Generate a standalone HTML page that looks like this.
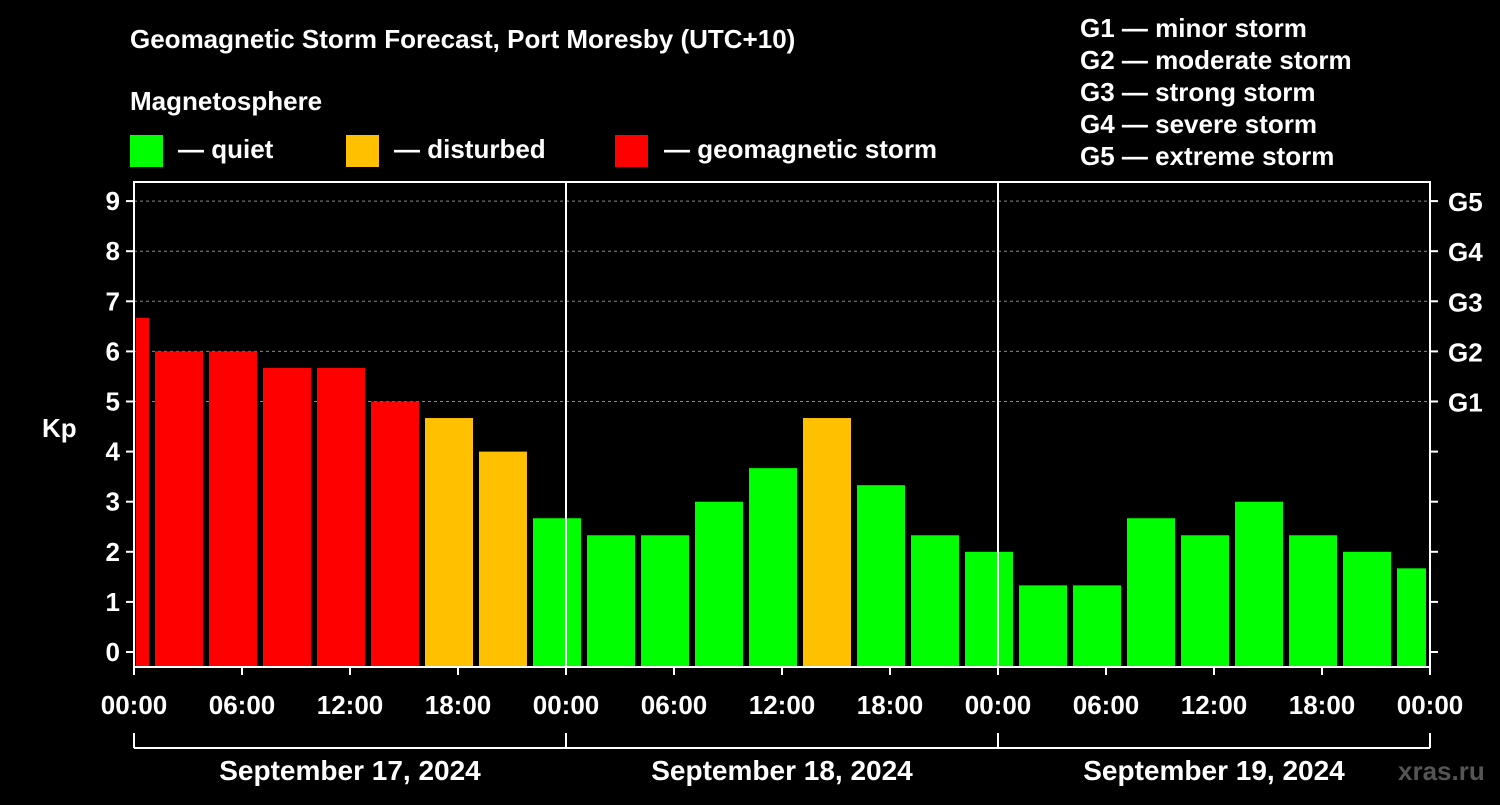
<!DOCTYPE html>
<html><head><meta charset="utf-8"><style>
body{margin:0;background:#000;}
svg text{font-family:"Liberation Sans",Arial,sans-serif;font-weight:bold;fill:#fff;}
</style></head><body>
<svg id="c" width="1500" height="800" xmlns="http://www.w3.org/2000/svg">
<rect width="1500" height="800" fill="#000"/>
<text x="130" y="48" font-size="26">Geomagnetic Storm Forecast, Port Moresby (UTC+10)</text>
<text x="130" y="110" font-size="26">Magnetosphere</text>
<rect x="130" y="135" width="33" height="32" fill="#00ff00"/>
<text x="178" y="158" font-size="26">— quiet</text>
<rect x="346" y="135" width="33" height="32" fill="#ffc000"/>
<text x="394" y="158" font-size="26">— disturbed</text>
<rect x="615" y="135" width="33" height="32" fill="#ff0000"/>
<text x="664" y="158" font-size="26">— geomagnetic storm</text>
<g font-size="26">
<text x="1080" y="37">G1 — minor storm</text>
<text x="1080" y="69">G2 — moderate storm</text>
<text x="1080" y="101">G3 — strong storm</text>
<text x="1080" y="133">G4 — severe storm</text>
<text x="1080" y="165">G5 — extreme storm</text>
</g>
<text x="42" y="437" font-size="26">Kp</text>
<text x="1398" y="780" font-size="26" fill="#555" style="fill:#555">xras.ru</text>
<g id="plot"></g>
</svg>
<script>
const kpValues=[6.67,6,6,5.67,5.67,5,4.67,4,2.67,2.33,2.33,3,3.67,4.67,3.33,2.33,2,1.33,1.33,2.67,2.33,3,2.33,2,1.67];
const slotStartHours=[0,1,4,7,10,13,16,19,22,25,28,31,34,37,40,43,46,49,52,55,58,61,64,67,70];
const yTicks=[0,1,2,3,4,5,6,7,8,9];
const gLabels=["G1","G2","G3","G4","G5"];
const xTickLabels=["00:00","06:00","12:00","18:00","00:00","06:00","12:00","18:00","00:00","06:00","12:00","18:00","00:00"];
const dayLabels=["September 17, 2024","September 18, 2024","September 19, 2024"];
const X0=134,X1=1430,TOTAL=72,YT=182,YB=667;
const xs=h=>X0+(X1-X0)*h/TOTAL;
const ys=v=>652-50.1*v;
const NS="http://www.w3.org/2000/svg";
const g=document.getElementById('plot');
function mk(t,a){const e=document.createElementNS(NS,t);for(const k in a)e.setAttribute(k,a[k]);g.appendChild(e);return e;}
// grid
for(let i=5;i<=9;i++){const l=mk('line',{x1:X0,x2:X1,y1:ys(i),y2:ys(i),stroke:'#888','stroke-dasharray':'3,3','stroke-width':1});

}
// bars
kpValues.forEach((v,i)=>{const s=slotStartHours[i];const e=Math.min(TOTAL,i+1<slotStartHours.length?slotStartHours[i+1]:TOTAL);
const x=xs(s)+(i===0?2:3),x2=xs(e)-(i===kpValues.length-1?4:3);
const col=v>=5?'#ff0000':(v>=4?'#ffc000':'#00ff00');
const r=mk('rect',{x:x,y:ys(v),width:x2-x,height:YB-ys(v),fill:col});

});
// frame
const f=mk('rect',{x:X0,y:YT,width:X1-X0,height:YB-YT,fill:'none',stroke:'#fff','stroke-width':2});


[24,48].forEach(h=>{const l=mk('line',{x1:xs(h),x2:xs(h),y1:YT,y2:YB,stroke:'#fff','stroke-width':2});

});
// y ticks
yTicks.forEach(v=>{const y=ys(v);
mk('line',{x1:X0-8,x2:X0,y1:y,y2:y,stroke:'#fff','stroke-width':2});
mk('line',{x1:X1,x2:X1+8,y1:y,y2:y,stroke:'#fff','stroke-width':2});
const t=mk('text',{x:X0-14,y:y+9,'font-size':26,'text-anchor':'end'});t.textContent=v;

});
gLabels.forEach((l,i)=>{const t=mk('text',{x:X1+18,y:ys(5+i)+10,'font-size':26});t.textContent=l;

});
// x ticks
xTickLabels.forEach((l,i)=>{const x=xs(i*6);
mk('line',{x1:x,x2:x,y1:YB,y2:YB+8,stroke:'#fff','stroke-width':2});
const t=mk('text',{x:x,y:714,'font-size':26,'text-anchor':'middle'});t.textContent=l;

});
// date bracket
mk('line',{x1:X0,x2:X1,y1:748,y2:748,stroke:'#fff','stroke-width':2});
[0,24,48,72].forEach(h=>mk('line',{x1:xs(h),x2:xs(h),y1:733,y2:748,stroke:'#fff','stroke-width':2}));
dayLabels.forEach((l,i)=>{const t=mk('text',{x:xs(i*24+12),y:780,'font-size':28,'text-anchor':'middle'});t.textContent=l;

});
</script>
</body></html>
